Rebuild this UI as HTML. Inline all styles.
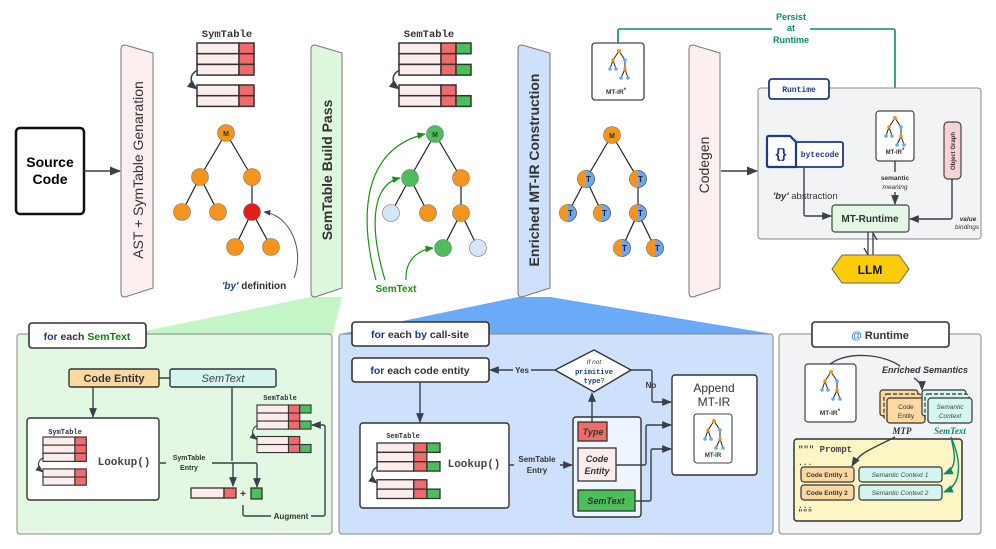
<!DOCTYPE html>
<html><head><meta charset="utf-8"><style>
html,body{margin:0;padding:0;background:#fff;}
svg{display:block;font-family:"Liberation Sans",sans-serif;}
.m{font-family:"Liberation Mono",monospace;font-weight:bold;}
.b{font-weight:bold;}
</style></head><body>
<svg width="996" height="549" viewBox="0 0 996 549" xmlns="http://www.w3.org/2000/svg">
<defs>
<marker id="ar" viewBox="0 0 10 10" refX="9" refY="5" markerWidth="7" markerHeight="7" orient="auto-start-reverse"><path d="M0,1 L10,5 L0,9 z" fill="#3a3f48"/></marker>
<marker id="ag" viewBox="0 0 10 10" refX="9" refY="5" markerWidth="7" markerHeight="7" orient="auto"><path d="M0,1 L10,5 L0,9 z" fill="#1a8f1a"/></marker>
<marker id="at" viewBox="0 0 10 10" refX="9" refY="5" markerWidth="7" markerHeight="7" orient="auto"><path d="M0,1 L10,5 L0,9 z" fill="#0a8a6e"/></marker>
<g id="row"><rect x="0" y="0" width="42" height="10.7" fill="#fdecec" stroke="#333" stroke-width="1.5"/><rect x="42" y="0" width="15" height="10.7" fill="#f26b6b" stroke="#333" stroke-width="1.5"/></g>
<g id="gc"><rect x="57" y="0" width="15" height="10.7" fill="#4cbf5a" stroke="#333" stroke-width="1.5"/></g>
<g id="sym">
<use href="#row" y="0"/><use href="#row" y="10.7"/><use href="#row" y="21.4"/>
<use href="#row" y="42"/><use href="#row" y="52.7"/>
<path d="M1,27 C-8,31 -8,40 0,46" fill="none" stroke="#3a3f48" stroke-width="1.5" marker-end="url(#ar)"/>
</g>
<g id="sem"><use href="#sym"/><use href="#gc" y="0"/><use href="#gc" y="21.4"/><use href="#gc" y="52.7"/></g>
<g id="ti" stroke="#222" stroke-width="1">
<path d="M0,0 L-6,9 L-9,18 M-6,9 L-3,18 M0,0 L6,9 L6,18 L2,27 M6,18 L9,27" fill="none"/>
<circle cx="0" cy="0" r="2" fill="#f7941d" stroke="none"/>
<circle cx="-6" cy="9" r="1.8" fill="#f7941d" stroke="none"/><circle cx="6" cy="9" r="1.8" fill="#6aa8f0" stroke="none"/>
<circle cx="-9" cy="18" r="1.8" fill="#6aa8f0" stroke="none"/><circle cx="-3" cy="18" r="1.8" fill="#6aa8f0" stroke="none"/><circle cx="6" cy="18" r="1.8" fill="#f7941d" stroke="none"/>
<circle cx="2" cy="27" r="1.8" fill="#6aa8f0" stroke="none"/><circle cx="9" cy="27" r="1.8" fill="#6aa8f0" stroke="none"/>
</g>
<clipPath id="hl"><rect x="-10" y="-10" width="10" height="20"/></clipPath>
<g id="tn"><circle r="8.5" fill="#6aa8f0" stroke="#555" stroke-width="0.8"/><path d="M0,-8.5 A8.5,8.5 0 0 0 0,8.5 z" fill="#f7941d"/><text x="2.5" y="3" font-size="8" font-weight="bold" fill="#222" text-anchor="middle">T</text></g>
</defs>

<!-- fans -->
<polygon points="311,297 342,297 333,334 130,334" fill="#c3f5c6"/>
<polygon points="518,297 550,297 773,334 340,334" fill="#6aaaf7"/>

<!-- Source code -->
<rect x="16" y="128" width="68" height="86" rx="4" fill="#fff" stroke="#111" stroke-width="2.5"/>
<text x="50" y="167" font-size="14" class="b" text-anchor="middle">Source</text>
<text x="50" y="184" font-size="14" class="b" text-anchor="middle">Code</text>
<line x1="84" y1="171" x2="120" y2="171" stroke="#3a3f48" stroke-width="1.6" marker-end="url(#ar)"/>

<!-- pass panels -->
<path d="M125,45 L153,53 L153,288 L125,297 Q121,297 121,293 L121,49 Q121,45 125,45z" fill="#fdeff0" stroke="#777" stroke-width="1"/>
<text transform="translate(143,170) rotate(-90)" font-size="14" fill="#333" text-anchor="middle">AST + SymTable Genaration</text>
<path d="M315,45 L342,53 L342,288 L315,297 Q311,297 311,293 L311,49 Q311,45 315,45z" fill="#ddf8dd" stroke="#777" stroke-width="1"/>
<text transform="translate(332,170) rotate(-90)" font-size="14" class="b" fill="#333" text-anchor="middle">SemTable Build Pass</text>
<path d="M522,45 L550,53 L550,288 L522,297 Q518,297 518,293 L518,49 Q518,45 522,45z" fill="#cde1fc" stroke="#777" stroke-width="1"/>
<text transform="translate(539,170) rotate(-90)" font-size="14" class="b" fill="#333" text-anchor="middle">Enriched MT-IR Construction</text>
<path d="M693,45 L720,53 L720,288 L693,297 Q689,297 689,293 L689,49 Q689,45 693,45z" fill="#fdeff0" stroke="#777" stroke-width="1"/>
<text transform="translate(709,165) rotate(-90)" font-size="14" fill="#333" text-anchor="middle">Codegen</text>

<!-- SymTable top -->
<text x="227" y="37" font-size="10.5" class="m" fill="#333" text-anchor="middle">SymTable</text>
<use href="#sym" transform="translate(197,43)"/>
<!-- Tree 1 -->
<g stroke="#222" stroke-width="1.2">
<line x1="226" y1="133" x2="200" y2="177"/><line x1="226" y1="133" x2="252" y2="177"/>
<line x1="200" y1="177" x2="182" y2="212"/><line x1="200" y1="177" x2="218" y2="212"/>
<line x1="252" y1="177" x2="252" y2="212"/><line x1="252" y1="212" x2="235" y2="247"/><line x1="252" y1="212" x2="271" y2="247"/>
</g>
<g fill="#f7941d" stroke="#777" stroke-width="0.6">
<circle cx="226" cy="133" r="8.5"/><circle cx="200" cy="177" r="8.5"/><circle cx="252" cy="177" r="8.5"/>
<circle cx="182" cy="212" r="8.5"/><circle cx="218" cy="212" r="8.5"/>
<circle cx="235" cy="247" r="8.5"/><circle cx="271" cy="247" r="8.5"/>
<circle cx="252" cy="212" r="8.5" fill="#e31b1b"/>
</g>
<text x="226" y="136" font-size="7" class="b" fill="#333" text-anchor="middle">M</text>
<path d="M294,278 C305,250 290,215 264,212" fill="none" stroke="#555" stroke-width="1" marker-end="url(#ar)"/>
<text x="222" y="289" font-size="10" class="b" fill="#333"><tspan fill="#1c3f94" font-style="italic">'by'</tspan> definition</text>

<!-- SemTable top -->
<text x="429" y="37" font-size="10.5" class="m" fill="#333" text-anchor="middle">SemTable</text>
<use href="#sem" transform="translate(399,43)"/>
<g stroke="#222" stroke-width="1.2">
<line x1="435" y1="134" x2="410" y2="178"/><line x1="435" y1="134" x2="461" y2="178"/>
<line x1="410" y1="178" x2="391" y2="213"/><line x1="410" y1="178" x2="428" y2="213"/>
<line x1="461" y1="178" x2="461" y2="213"/><line x1="461" y1="213" x2="443" y2="248"/><line x1="461" y1="213" x2="478" y2="248"/>
</g>
<g stroke="#777" stroke-width="0.6">
<circle cx="435" cy="134" r="8.5" fill="#4cbf5a"/><circle cx="410" cy="178" r="8.5" fill="#4cbf5a"/><circle cx="461" cy="178" r="8.5" fill="#f7941d"/>
<circle cx="391" cy="213" r="8.5" fill="#d4e6fb"/><circle cx="428" cy="213" r="8.5" fill="#f7941d"/><circle cx="461" cy="213" r="8.5" fill="#f7941d"/>
<circle cx="443" cy="248" r="8.5" fill="#4cbf5a"/><circle cx="478" cy="248" r="8.5" fill="#d4e6fb"/>
</g>
<text x="435" y="137" font-size="7" class="b" fill="#333" text-anchor="middle">M</text>
<g fill="none" stroke="#1a8f1a" stroke-width="1.2">
<path d="M376,280 C360,220 360,150 425,134" marker-end="url(#ag)"/>
<path d="M385,280 C370,230 370,185 400,178" marker-end="url(#ag)"/>
<path d="M406,280 C405,260 418,250 433,248" marker-end="url(#ag)"/>
</g>
<text x="396" y="292" font-size="10" class="b" fill="#1a8f1a" text-anchor="middle">SemText</text>

<!-- MT-IR* top -->
<rect x="592" y="43" width="52" height="57" rx="3" fill="#fff" stroke="#444" stroke-width="1.3"/>
<use href="#ti" transform="translate(619,51)"/>
<text x="616" y="94" font-size="6.5" class="b" fill="#333" text-anchor="middle">MT-IR<tspan dy="-2" font-size="6">*</tspan></text>
<!-- Tree 3 -->
<g stroke="#222" stroke-width="1.2">
<line x1="612" y1="135" x2="586" y2="179"/><line x1="612" y1="135" x2="638" y2="179"/>
<line x1="586" y1="179" x2="568" y2="213"/><line x1="586" y1="179" x2="602" y2="213"/>
<line x1="638" y1="179" x2="638" y2="213"/><line x1="638" y1="213" x2="622" y2="248"/><line x1="638" y1="213" x2="655" y2="248"/>
</g>
<circle cx="612" cy="135" r="8.5" fill="#f7941d" stroke="#777" stroke-width="0.6"/>
<text x="612" y="138" font-size="7" class="b" fill="#333" text-anchor="middle">M</text>
<use href="#tn" x="586" y="179"/><use href="#tn" x="638" y="179"/><use href="#tn" x="568" y="213"/><use href="#tn" x="602" y="213"/><use href="#tn" x="638" y="213"/><use href="#tn" x="622" y="248"/><use href="#tn" x="655" y="248"/>

<!-- persist -->
<path d="M618,43 L618,31 Q618,29 620,29 L772,29 M810,29 L893,29 Q895,29 895,31 L895,110" fill="none" stroke="#0a8a6e" stroke-width="1.6" marker-end="url(#at)"/>
<g font-size="9" class="b" fill="#0a8a6e" text-anchor="middle"><text x="791" y="20">Persist</text><text x="791" y="31">at</text><text x="791" y="43">Runtime</text></g>

<!-- runtime top -->
<line x1="721" y1="171" x2="757" y2="171" stroke="#3a3f48" stroke-width="1.6" marker-end="url(#ar)"/>
<rect x="758" y="88" width="223" height="151" rx="3" fill="#f2f3f5" stroke="#888" stroke-width="1"/>
<rect x="769" y="79" width="60" height="20" rx="3" fill="#fff" stroke="#1c3a8a" stroke-width="1.8"/>
<text x="799" y="92" font-size="8" class="m" fill="#1c3a8a" text-anchor="middle">Runtime</text>
<rect x="796" y="142" width="47" height="25" rx="2" fill="#fff" stroke="#1c3a8a" stroke-width="1.8"/>
<text x="820" y="157" font-size="8" class="m" fill="#1c3a8a" text-anchor="middle">bytecode</text>
<path d="M769,136 L790,136 L796,142 L796,167 L769,167 Q767,167 767,165 L767,138 Q767,136 769,136z" fill="#fff" stroke="#1c3a8a" stroke-width="2.2"/>
<text x="781" y="158" font-size="14" class="b" fill="#1c3a8a" text-anchor="middle">{}</text>
<rect x="876" y="111" width="38" height="50" rx="3" fill="#fff" stroke="#444" stroke-width="1.2"/>
<use href="#ti" transform="translate(895,118)"/>
<text x="895" y="154" font-size="6" class="b" fill="#333" text-anchor="middle">MT-IR<tspan dy="-2">*</tspan></text>
<rect x="944" y="122" width="17" height="57" rx="4" fill="#f9d2d2" stroke="#444" stroke-width="1.2"/>
<text transform="translate(955,151) rotate(-90)" font-size="6" class="b" fill="#333" text-anchor="middle">Object Graph</text>
<rect x="832" y="205" width="77" height="27" rx="3" fill="#e2f8e2" stroke="#444" stroke-width="1.2"/>
<text x="870" y="222" font-size="10" class="b" fill="#333" text-anchor="middle">MT-Runtime</text>
<path d="M804,167 L804,214 Q804,216 806,216 L831,216" fill="none" stroke="#3a3f48" stroke-width="1.4" marker-end="url(#ar)"/>
<text x="773" y="199" font-size="9.5" fill="#333"><tspan font-weight="bold" font-style="italic">'by'</tspan> abstraction</text>
<line x1="895" y1="161" x2="895" y2="204" stroke="#3a3f48" stroke-width="1.4" marker-end="url(#ar)"/>
<rect x="880" y="172" width="32" height="20" fill="#f2f3f5"/>
<text x="895" y="180" font-size="6.5" class="b" fill="#333" text-anchor="middle">semantic</text>
<text x="895" y="189" font-size="6.5" font-style="italic" fill="#333" text-anchor="middle">meaning</text>
<path d="M952,179 L952,217 Q952,219 950,219 L910,219" fill="none" stroke="#3a3f48" stroke-width="1.4" marker-end="url(#ar)"/>
<text x="968" y="221" font-size="6.5" class="b" font-style="italic" fill="#333" text-anchor="middle">value</text>
<text x="967" y="229" font-size="6.5" font-style="italic" fill="#333" text-anchor="middle">bindings</text>
<line x1="868" y1="232" x2="868" y2="255" stroke="#3a3f48" stroke-width="1.3"/>
<line x1="873" y1="232" x2="873" y2="255" stroke="#3a3f48" stroke-width="1.3"/>
<line x1="868" y1="255" x2="864" y2="248" stroke="#3a3f48" stroke-width="1.3"/>
<line x1="873" y1="233" x2="877" y2="240" stroke="#3a3f48" stroke-width="1.3"/>
<polygon points="842,255 899,255 909,269 899,283 842,283 832,269" fill="#fccc0a" stroke="#666" stroke-width="1"/>
<text x="870" y="274" font-size="12" class="b" fill="#111" text-anchor="middle">LLM</text>

<!-- bottom green panel -->
<rect x="17" y="334" width="315" height="200" rx="3" fill="#e2f8e2" stroke="#888" stroke-width="1"/>
<rect x="29" y="323" width="117" height="25" rx="3" fill="#fff" stroke="#333" stroke-width="1.6"/>
<text x="87" y="340" font-size="10.5" class="b" text-anchor="middle"><tspan fill="#1c3a8a">for</tspan><tspan fill="#333"> each </tspan><tspan fill="#1a7a1a">SemText</tspan></text>
<rect x="69" y="369" width="90" height="18" rx="2" fill="#fdd9a0" stroke="#333" stroke-width="1.4"/>
<text x="114" y="382" font-size="11" class="b" fill="#333" text-anchor="middle">Code Entity</text>
<line x1="159" y1="378" x2="170" y2="378" stroke="#333" stroke-width="1.4"/>
<rect x="170" y="369" width="106" height="18" rx="2" fill="#d5f5f0" stroke="#333" stroke-width="1.4"/>
<text x="223" y="382" font-size="11" font-style="italic" fill="#444" text-anchor="middle">SemText</text>
<line x1="93" y1="387" x2="93" y2="417" stroke="#3a3f48" stroke-width="1.4" marker-end="url(#ar)"/>
<rect x="27" y="418" width="132" height="82" rx="3" fill="#fff" stroke="#333" stroke-width="1.4"/>
<text x="65" y="434" font-size="7" class="m" fill="#333" text-anchor="middle">SymTable</text>
<use href="#sym" transform="translate(43,437) scale(0.76)"/>
<text x="124" y="465" font-size="11" class="m" fill="#444" text-anchor="middle">Lookup()</text>
<path d="M160,463 L231,463 Q233,463 233,465 L233,486" fill="none" stroke="#3a3f48" stroke-width="1.4" marker-end="url(#ar)"/>
<rect x="166" y="452" width="46" height="20" fill="#e2f8e2"/>
<text x="189" y="460" font-size="7" class="b" fill="#333" text-anchor="middle">SymTable</text>
<text x="189" y="470" font-size="7" class="b" fill="#333" text-anchor="middle">Entry</text>
<path d="M232,387 L232,461 M232,463 L255,463 Q257,463 257,465 L257,487" fill="none" stroke="#3a3f48" stroke-width="1.4" marker-end="url(#ar)"/>
<rect x="191" y="488" width="33" height="10" fill="#fdecec" stroke="#333" stroke-width="1.3"/>
<rect x="224" y="488" width="12" height="10" fill="#f26b6b" stroke="#333" stroke-width="1.3"/>
<text x="243" y="497" font-size="10" class="b" fill="#333" text-anchor="middle">+</text>
<rect x="251" y="488" width="11" height="11" fill="#4cbf5a" stroke="#333" stroke-width="1.3"/>
<text x="280" y="400" font-size="7" class="m" fill="#333" text-anchor="middle">SemTable</text>
<use href="#sem" transform="translate(257,405) scale(0.75)"/>
<path d="M243,505 L243,514 Q243,516 245,516 L323,516 Q325,516 325,514 L325,427 Q325,425 323,425 L312,425" fill="none" stroke="#3a3f48" stroke-width="1.4" marker-end="url(#ar)"/>
<rect x="271" y="511" width="40" height="10" fill="#e2f8e2"/>
<text x="291" y="519" font-size="8" class="b" fill="#333" text-anchor="middle">Augment</text>

<!-- bottom blue panel -->
<rect x="339" y="334" width="434" height="200" rx="3" fill="#cde1fc" stroke="#888" stroke-width="1"/>
<rect x="352" y="322" width="137" height="24" rx="3" fill="#fff" stroke="#333" stroke-width="1.6"/>
<text x="420" y="338" font-size="10.5" class="b" text-anchor="middle"><tspan fill="#1c3a8a">for</tspan><tspan fill="#333"> each </tspan><tspan fill="#1c3a8a">by</tspan><tspan fill="#333"> call-site</tspan></text>
<rect x="352" y="358" width="137" height="24" rx="3" fill="#fff" stroke="#333" stroke-width="1.6"/>
<text x="420" y="374" font-size="10.5" class="b" text-anchor="middle"><tspan fill="#1c3a8a">for</tspan><tspan fill="#333"> each code entity</tspan></text>
<line x1="420" y1="382" x2="420" y2="422" stroke="#3a3f48" stroke-width="1.4" marker-end="url(#ar)"/>
<rect x="360" y="423" width="149" height="85" rx="3" fill="#fff" stroke="#333" stroke-width="1.4"/>
<text x="403" y="438" font-size="7" class="m" fill="#333" text-anchor="middle">SemTable</text>
<use href="#sem" transform="translate(377,443) scale(0.875)"/>
<text x="474" y="467" font-size="11" class="m" fill="#444" text-anchor="middle">Lookup()</text>
<line x1="509" y1="465" x2="572" y2="465" stroke="#3a3f48" stroke-width="1.4" marker-end="url(#ar)"/>
<rect x="514" y="452" width="46" height="22" fill="#cde1fc"/>
<text x="537" y="462" font-size="8" class="b" fill="#333" text-anchor="middle">SemTable</text>
<text x="537" y="473" font-size="8" class="b" fill="#333" text-anchor="middle">Entry</text>
<polygon points="594,350 631,370 594,392 555,370" fill="#fff" stroke="#333" stroke-width="1.4"/>
<text x="594" y="364" font-size="6.5" font-style="italic" fill="#333" text-anchor="middle">If not</text>
<text x="594" y="374" font-size="7" class="m" fill="#1c3a8a" text-anchor="middle">primitive</text>
<text x="594" y="383" font-size="7" class="m" fill="#1c3a8a" text-anchor="middle">type<tspan fill="#333" font-family="Liberation Sans" font-weight="normal">?</tspan></text>
<line x1="555" y1="370" x2="490" y2="370" stroke="#3a3f48" stroke-width="1.4" marker-end="url(#ar)"/>
<rect x="513" y="365" width="18" height="10" fill="#cde1fc"/>
<text x="522" y="373" font-size="8" class="b" fill="#333" text-anchor="middle">Yes</text>
<path d="M631,370 L650,370 Q652,370 652,372 L652,400 Q652,402 654,402 L671,402" fill="none" stroke="#3a3f48" stroke-width="1.4" marker-end="url(#ar)"/>
<text x="651" y="388" font-size="8" class="b" fill="#333" text-anchor="middle">No</text>
<rect x="672" y="375" width="85" height="100" rx="3" fill="#fff" stroke="#333" stroke-width="1.4"/>
<text x="714" y="392" font-size="12" fill="#333" text-anchor="middle">Append</text>
<text x="714" y="406" font-size="12" fill="#333" text-anchor="middle">MT-IR</text>
<rect x="694" y="414" width="38" height="49" rx="3" fill="#fff" stroke="#444" stroke-width="1.1"/>
<use href="#ti" transform="translate(714,421)"/>
<text x="713" y="457" font-size="6" class="b" fill="#333" text-anchor="middle">MT-IR</text>
<rect x="573" y="417" width="68" height="100" rx="3" fill="#eef5ff" stroke="#333" stroke-width="1.4"/>
<line x1="592" y1="422" x2="592" y2="393" stroke="#3a3f48" stroke-width="1.4" marker-end="url(#ar)"/>
<rect x="578" y="422" width="29" height="19" fill="#f26b6b" stroke="#333" stroke-width="1.3"/>
<text x="593" y="435" font-size="9" class="b" font-style="italic" fill="#333" text-anchor="middle">Type</text>
<rect x="578" y="448" width="38" height="33" fill="#fdecec" stroke="#333" stroke-width="1.3"/>
<text x="597" y="462" font-size="9" class="b" font-style="italic" fill="#333" text-anchor="middle">Code</text>
<text x="597" y="474" font-size="9" class="b" font-style="italic" fill="#333" text-anchor="middle">Entity</text>
<rect x="578" y="490" width="57" height="21" fill="#4cbf5a" stroke="#333" stroke-width="1.3"/>
<text x="606" y="504" font-size="9" class="b" font-style="italic" fill="#333" text-anchor="middle">SemText</text>
<path d="M616,465 L644,465 Q646,465 646,463 L646,427 Q646,425 648,425 L671,425" fill="none" stroke="#3a3f48" stroke-width="1.4" marker-end="url(#ar)"/>
<path d="M635,501 L649,501 Q651,501 651,499 L651,451 Q651,449 653,449 L671,449" fill="none" stroke="#3a3f48" stroke-width="1.4" marker-end="url(#ar)"/>

<!-- bottom runtime panel -->
<rect x="779" y="334" width="202" height="200" rx="3" fill="#f2f3f5" stroke="#888" stroke-width="1"/>
<rect x="812" y="322" width="137" height="25" rx="3" fill="#fff" stroke="#333" stroke-width="1.6"/>
<text x="880" y="339" font-size="11" class="b" text-anchor="middle"><tspan fill="#3a80e0">@</tspan><tspan fill="#333"> Runtime</tspan></text>
<rect x="805" y="364" width="51" height="58" rx="3" fill="#fff" stroke="#444" stroke-width="1.2"/>
<use href="#ti" transform="translate(831,372)"/>
<text x="830" y="415" font-size="6.5" class="b" fill="#333" text-anchor="middle">MT-IR<tspan dy="-2">*</tspan></text>
<path d="M830,364 C850,350 885,355 900,366" fill="none" stroke="#3a3f48" stroke-width="1.3"/>
<text x="925" y="373" font-size="9" class="b" font-style="italic" fill="#333" text-anchor="middle">Enriched Semantics</text>
<path d="M914,378 C920,382 922,386 922,390" fill="none" stroke="#3a3f48" stroke-width="1.4" marker-end="url(#ar)"/>
<rect x="880" y="390" width="38" height="26" rx="3" fill="#fdd9a0" stroke="#333" stroke-width="1.2"/>
<rect x="884" y="394" width="38" height="26" rx="3" fill="#fdd9a0" stroke="#333" stroke-width="1.2" stroke-dasharray="4 2"/>
<rect x="887" y="398" width="38" height="25" rx="3" fill="#fdd9a0" stroke="#333" stroke-width="1.2"/>
<text x="906" y="409" font-size="6.5" fill="#333" text-anchor="middle">Code</text>
<text x="906" y="418" font-size="6.5" fill="#333" text-anchor="middle">Entity</text>
<rect x="922" y="390" width="44" height="26" rx="3" fill="#d5f5f0" stroke="#333" stroke-width="1.2"/>
<rect x="925" y="394" width="44" height="26" rx="3" fill="#d5f5f0" stroke="#333" stroke-width="1.2" stroke-dasharray="4 2"/>
<rect x="928" y="398" width="44" height="25" rx="3" fill="#d5f5f0" stroke="#333" stroke-width="1.2"/>
<text x="950" y="409" font-size="6.5" font-style="italic" fill="#444" text-anchor="middle">Semantic</text>
<text x="950" y="418" font-size="6.5" font-style="italic" fill="#444" text-anchor="middle">Context</text>
<text x="902" y="434" font-size="9" class="b" font-style="italic" font-family="Liberation Serif,serif" fill="#333" text-anchor="middle">MTP</text>
<text x="950" y="434" font-size="9" class="b" font-style="italic" font-family="Liberation Serif,serif" fill="#0a8a6e" text-anchor="middle">SemText</text>
<rect x="794" y="439" width="168" height="82" rx="3" fill="#fcf6c4" stroke="#333" stroke-width="1.5"/>
<text x="798" y="452" font-size="9" class="m" fill="#444">""" Prompt</text>
<text x="798" y="465" font-size="8" class="m" fill="#444">...</text>
<text x="798" y="508" font-size="8" class="m" fill="#444">...</text>
<text x="798" y="515" font-size="8" class="m" fill="#444">"""</text>
<rect x="801" y="467" width="53" height="15" rx="3" fill="#fdd9a0" stroke="#333" stroke-width="1.2"/>
<text x="827" y="477" font-size="6.5" class="b" fill="#333" text-anchor="middle">Code Entity 1</text>
<rect x="801" y="485" width="53" height="15" rx="3" fill="#fdd9a0" stroke="#333" stroke-width="1.2"/>
<text x="827" y="495" font-size="6.5" class="b" fill="#333" text-anchor="middle">Code Entity 2</text>
<rect x="859" y="467" width="83" height="15" rx="3" fill="#d5f5f0" stroke="#333" stroke-width="1.2"/>
<text x="900" y="477" font-size="6.5" font-style="italic" fill="#444" text-anchor="middle">Semantic Context 1</text>
<rect x="859" y="485" width="83" height="15" rx="3" fill="#d5f5f0" stroke="#333" stroke-width="1.2"/>
<text x="900" y="495" font-size="6.5" font-style="italic" fill="#444" text-anchor="middle">Semantic Context 2</text>
<path d="M895,437 C870,450 860,452 852,466" fill="none" stroke="#3a3f48" stroke-width="1.4" marker-end="url(#ar)"/>
<path d="M951,437 C955,455 958,468 944,474" fill="none" stroke="#0a8a6e" stroke-width="1.4" marker-end="url(#at)"/>
<path d="M951,437 C962,462 962,485 944,492" fill="none" stroke="#0a8a6e" stroke-width="1.4" marker-end="url(#at)"/>
</svg>
</body></html>
